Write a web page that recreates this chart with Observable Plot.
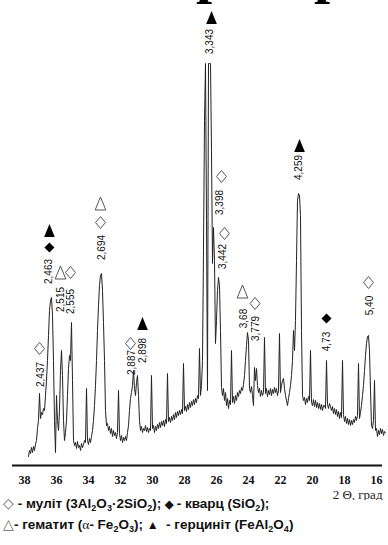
<!DOCTYPE html>
<html><head><meta charset="utf-8">
<script src="https://cdn.jsdelivr.net/npm/d3@7"></script>
<script src="https://cdn.jsdelivr.net/npm/@observablehq/plot@0.6"></script>
<style>
html,body{margin:0;padding:0;background:#fff;overflow:hidden;}
#wrap{position:relative;width:388px;height:545px;}
#cut{position:absolute;left:0;top:0;width:388px;height:16px;overflow:hidden;z-index:2;}
#cut span{position:absolute;font:bold 58px "Liberation Serif",serif;line-height:58px;top:-56px;color:#000;}
#legend{font:bold 13.5px "Liberation Sans",Arial,sans-serif;margin-top:-7px;padding-left:3px;line-height:20px;color:#111;white-space:nowrap;}
#legend sub{font-size:9px;vertical-align:-3px;line-height:0;}
#legend .h{font-weight:normal;color:#666;font-size:14px;}
#legend .g{font-family:"Liberation Serif",serif;font-weight:normal;}
svg{display:block;}
</style></head><body>
<div id="wrap">
<div id="cut"><span style="left:196px">р</span><span style="left:314px">р</span></div>
<div id="chart"></div>
<div id="legend">
<div><span class="h">◇</span> - муліт (3Al<sub>2</sub>O<sub>3</sub>·2SiO<sub>2</sub>); <span style="font-size:11px">◆</span> - кварц (SiO<sub>2</sub>);</div>
<div><span class="h">△</span>- гематит (<span class="g">α</span>- Fe<sub>2</sub>O<sub>3</sub>); <span style="font-size:12px">▲</span>&nbsp;&nbsp;- герциніт (FeAl<sub>2</sub>O<sub>4</sub>)</div>
</div>
</div>
<script>
// 2θ scan positions (degrees)
const twoTheta = [
37.750,37.688,37.625,37.563,37.500,37.438,37.375,37.313,37.250,37.188,37.125,37.063,
37.000,36.938,36.875,36.813,36.750,36.688,36.625,36.563,36.500,36.438,36.375,36.313,36.250,36.188,36.125,36.063,
36.000,35.938,35.875,35.813,35.750,35.688,35.625,35.563,35.500,35.438,35.375,35.313,35.250,35.188,35.125,35.063,
35.000,34.938,34.875,34.813,34.750,34.688,34.625,34.563,34.500,34.438,34.375,34.313,34.250,34.188,34.125,34.063,
34.000,33.938,33.875,33.813,33.750,33.688,33.625,33.563,33.500,33.438,33.375,33.313,33.250,33.188,33.125,33.063,
33.000,32.938,32.875,32.813,32.750,32.688,32.625,32.563,32.500,32.438,32.375,32.313,32.250,32.188,32.125,32.063,
32.000,31.938,31.875,31.813,31.750,31.688,31.625,31.563,31.500,31.438,31.375,31.313,31.250,31.188,31.125,31.063,
31.000,30.938,30.875,30.813,30.750,30.688,30.625,30.563,30.500,30.438,30.375,30.313,30.250,30.188,30.125,30.063,
30.000,29.938,29.875,29.813,29.750,29.688,29.625,29.563,29.500,29.438,29.375,29.313,29.250,29.188,29.125,29.063,
29.000,28.938,28.875,28.813,28.750,28.688,28.625,28.563,28.500,28.438,28.375,28.313,28.250,28.188,28.125,28.063,
28.000,27.938,27.875,27.813,27.750,27.688,27.625,27.563,27.500,27.438,27.375,27.313,27.250,27.188,27.125,27.063,
27.000,26.938,26.875,26.813,26.750,26.688,26.625,26.563,26.500,26.438,26.375,26.313,26.250,26.188,26.125,26.063,
26.000,25.938,25.875,25.813,25.750,25.688,25.625,25.563,25.500,25.438,25.375,25.313,25.250,25.188,25.125,25.063,
25.000,24.938,24.875,24.813,24.750,24.688,24.625,24.563,24.500,24.438,24.375,24.313,24.250,24.188,24.125,24.063,
24.000,23.938,23.875,23.813,23.750,23.688,23.625,23.563,23.500,23.438,23.375,23.313,23.250,23.188,23.125,23.063,
23.000,22.938,22.875,22.813,22.750,22.688,22.625,22.563,22.500,22.438,22.375,22.313,22.250,22.188,22.125,22.063,
22.000,21.938,21.875,21.813,21.750,21.688,21.625,21.563,21.500,21.438,21.375,21.313,21.250,21.188,21.125,21.063,
21.000,20.938,20.875,20.813,20.750,20.688,20.625,20.563,20.500,20.438,20.375,20.313,20.250,20.188,20.125,20.063,
20.000,19.938,19.875,19.813,19.750,19.688,19.625,19.563,19.500,19.438,19.375,19.313,19.250,19.188,19.125,19.063,
19.000,18.938,18.875,18.813,18.750,18.688,18.625,18.563,18.500,18.438,18.375,18.313,18.250,18.188,18.125,18.063,
18.000,17.938,17.875,17.813,17.750,17.688,17.625,17.563,17.500,17.438,17.375,17.313,17.250,17.188,17.125,17.063,
17.000,16.938,16.875,16.813,16.750,16.688,16.625,16.563,16.500,16.438,16.375,16.313,16.250,16.188,16.125,16.063,
16.000,15.938,15.875,15.813,15.750,15.688,15.625,15.563,15.500,15.438
];
// intensity (arbitrary units)
const intensity = [
9,15,12,18,13,19,15,21,25,37,45,72,
47,53,51,57,55,70,85,105,130,155,165,168,150,105,45,13,
70,45,35,55,95,115,90,45,25,33,45,70,97,110,105,143,
85,25,20,23,17,24,18,20,15,22,18,21,25,23,77,25,
21,27,23,29,35,45,60,80,105,135,160,180,190,192,175,143,
105,55,40,42,35,39,32,37,29,35,30,33,27,33,75,32,
25,30,23,28,25,29,25,33,40,55,67,73,80,95,77,70,
83,90,70,45,35,39,33,37,35,40,34,38,33,37,35,90,
37,40,33,39,35,41,37,43,38,44,40,45,39,46,42,92,
44,48,43,49,45,51,46,53,48,54,50,55,51,56,52,102,
55,59,54,61,56,63,58,64,60,66,61,67,63,70,67,117,
70,80,105,215,345,402,245,75,402,402,402,315,202,238,205,122,
145,175,188,180,135,78,70,77,65,73,60,67,57,65,61,115,
63,69,62,70,65,73,69,75,72,78,75,81,90,105,120,133,
125,77,73,79,70,60,98,85,97,80,73,77,69,75,70,73,
128,72,77,69,75,71,77,70,76,72,78,73,77,70,75,132,
73,80,85,87,77,70,65,60,67,73,80,90,105,135,115,145,
205,265,272,270,250,135,70,65,68,61,67,63,69,65,115,63,
60,66,59,65,58,63,57,62,56,61,55,60,60,57,105,61,
57,62,59,55,59,52,57,51,56,49,54,47,53,48,105,51,
44,49,42,47,41,46,40,45,41,46,43,49,45,50,102,47,
53,60,70,80,95,110,122,129,130,115,75,40,37,45,85,35,
37,29,35,31,37,32,36,30,34,33
];

const xTicks = [38,36,34,32,30,28,26,24,22,20,18,16];

// d-spacing labels (Å) and where they sit
const peakLabels = ["2,437","2,463","2,515","2,555","2,694","2,887","2,898","3,343","3,398","3,442","3,68","3,779","4,259","4,73","5,40"];
const labelTheta = [37.0,36.5,35.75,35.125,33.19,31.31,30.625,26.44,25.78,25.625,24.31,23.56,20.875,19.125,16.44];
const labelI     = [91,194,166,164,218,103,115,424,263,209,147,137,298,124,160];

// phase markers
const mulliteTheta = [37.06,35.125,33.25,31.375,25.69,25.5,23.59,16.5];
const mulliteI     = [117,193,243,122,289,232,162,183];
const quartzTheta  = [36.44,19.125];
const quartzI      = [218,147];
const hematiteTheta = [35.75,33.25,24.375];
const hematiteI     = [193,262,174];
const hercyniteTheta = [36.44,30.625,26.31,20.81];
const hercyniteI     = [235,142,448,320];

const diamondTall = {draw(c, s){const r=Math.sqrt(s/Math.PI), w=r*0.83; c.moveTo(0,-r); c.lineTo(w,0); c.lineTo(0,r); c.lineTo(-w,0); c.closePath();}};
const diamondSq = {draw(c, s){const r=Math.sqrt(s/Math.PI); c.moveTo(0,-r); c.lineTo(r,0); c.lineTo(0,r); c.lineTo(-r,0); c.closePath();}};
const triTall = {draw(c, s){const r=Math.sqrt(s/Math.PI), w=r*0.82; c.moveTo(0,-r); c.lineTo(w,r); c.lineTo(-w,r); c.closePath();}};

const chart = Plot.plot({
  width: 388, height: 500,
  marginLeft: 12, marginRight: 6, marginTop: 0, marginBottom: 35,
  x: {domain: [38.75, 15.625], ticks: xTicks, tickSize: 0, tickPadding: 10, label: null, tickFormat: d => String(d)},
  y: {domain: [0, 465], axis: null},
  style: {fontFamily: "'Liberation Serif', serif", fontSize: "12px", fontWeight: "bold", background: "white", color: "#111"},
  marks: [
    Plot.ruleY([0], {stroke: "#111", strokeWidth: 2}),
    Plot.line(twoTheta, {x: twoTheta, y: intensity, stroke: "#222", strokeWidth: 1}),
    Plot.text(peakLabels, {x: labelTheta, y: labelI, text: d => d, rotate: -90, fontSize: 10, fontFamily: "'Liberation Sans', Arial, sans-serif", fontWeight: "normal", fill: "#111", textAnchor: "middle", lineAnchor: "middle"}),
    Plot.dot(mulliteTheta, {x: mulliteTheta, y: mulliteI, symbol: diamondTall, r: 6, fill: "white", stroke: "#555", strokeWidth: 1}),
    Plot.dot(quartzTheta, {x: quartzTheta, y: quartzI, symbol: diamondSq, r: 5, fill: "#000", stroke: "none"}),
    Plot.dot(hematiteTheta, {x: hematiteTheta, y: hematiteI, symbol: triTall, r: 6.5, fill: "white", stroke: "#555", strokeWidth: 1}),
    Plot.dot(hercyniteTheta, {x: hercyniteTheta, y: hercyniteI, symbol: triTall, r: 6.5, fill: "#000", stroke: "none"}),
    Plot.text(["2 Θ, град"], {frameAnchor: "bottom-right", textAnchor: "end", lineAnchor: "bottom", dy: 33, dx: 0, fontSize: 13, fontWeight: "normal", fill: "#222"})
  ]
});
document.getElementById("chart").appendChild(chart);
</script>
</body></html>
